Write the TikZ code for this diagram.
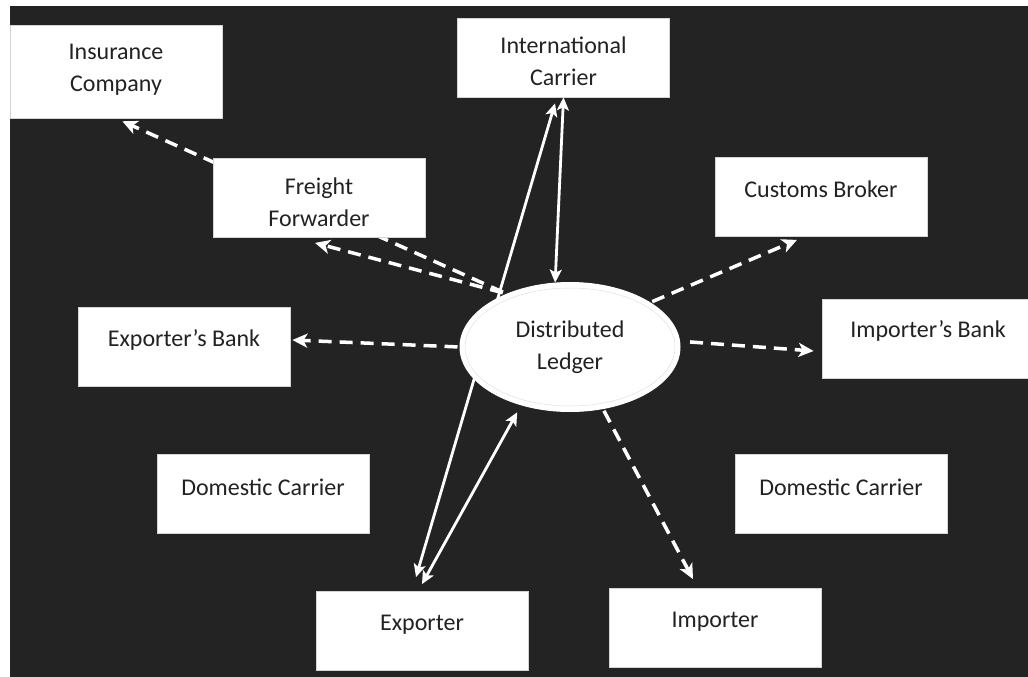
\documentclass[tikz,border=0pt]{standalone}
\usepackage{fontspec}
\setmainfont{Carlito}
\usetikzlibrary{shapes.geometric,arrows.meta}
\pgfdeclarelayer{back}
\pgfdeclarelayer{links}
\pgfsetlayers{back,links,main}
\definecolor{board}{HTML}{232323}
\definecolor{ink}{HTML}{222222}
\definecolor{rim}{HTML}{D4D4D4}

\begin{document}
\begin{tikzpicture}[x=1pt,y=-1pt,
  party/.style={draw=rim,line width=0.8pt,fill=white,minimum width=212pt,minimum height=79pt,inner sep=0pt},
  tag/.style={text=ink,align=center,font=\fontsize{24}{32}\selectfont},
  flow/.style={white,line width=3.5pt,dash pattern=on 13pt off 8pt,-{Stealth[length=15pt,width=14pt,inset=4pt]}},
  link/.style={white,line width=2.8pt,{Stealth[length=13pt,width=12pt,inset=3pt]}-{Stealth[length=13pt,width=12pt,inset=3pt]}}]

\useasboundingbox (0,0) rectangle (1028,677) ;

\node[party,minimum height=93pt] (ins) at (116,71.5) {} ;
\node[tag] (ins-t) at (116,70) {Insurance\\Company} ;
\node[party] (intc) at (563.5,57.5) {} ;
\node[tag] (intc-t) at (563.5,61) {International\\Carrier} ;
\node[party] (fwd) at (319,198) {} ;
\node[tag] (fwd-t) at (319,202) {Freight\\Forwarder} ;
\node[party] (cust) at (821,197) {} ;
\node[tag] (cust-t) at (821,189) {Customs Broker} ;

\node[party] (xbank) at (184,347) {} ;
\node[tag] (xbank-t) at (184,340) {Exporter’s Bank} ;
\node[party] (ibank) at (928,339) {} ;
\node[tag] (ibank-t) at (928,331) {Importer’s Bank} ;

\node[party] (dcl) at (263,494) {} ;
\node[tag] (dcl-t) at (263,487) {Domestic Carrier} ;
\node[party] (dcr) at (841,494) {} ;
\node[tag] (dcr-t) at (841,487) {Domestic Carrier} ;
\node[party] (exp) at (422,631) {} ;
\node[tag] (exp-t) at (422,625) {Exporter} ;
\node[party] (imp) at (715,628) {} ;
\node[tag] (imp-t) at (715,622) {Importer} ;

\node[ellipse,fill=white,draw=white,line width=1pt,minimum width=220pt,minimum height=129pt,inner sep=0pt,tag] (ledger) at (570,347) {Distributed\\Ledger} ;
\draw[rim!70,line width=0.5pt] (ledger.center) ellipse [x radius=105pt,y radius=59pt] ;

\begin{pgfonlayer}{back}
\fill[white] (0,0) rectangle (1028,677) ;
\fill[board] (10,6) rectangle (1028,677) ;
\end{pgfonlayer}

\begin{pgfonlayer}{links}
\draw[flow,shorten <=4pt,shorten >=7pt] (ledger.140) -- (ins.south) ;
\draw[flow,shorten <=4pt] (ledger.140) -- ([xshift=-4pt,yshift=-5pt]fwd.south) ;
\draw[flow,shorten <=2pt] (ledger.west) -- ([xshift=2pt,yshift=7pt]xbank.east) ;
\draw[flow,shorten <=2pt] (ledger.29) -- ([xshift=-24pt,yshift=-3pt]cust.south) ;
\draw[flow,shorten <=10pt] (ledger.3) -- ([xshift=-8pt,yshift=-12pt]ibank.west) ;
\draw[flow,shorten <=2pt] (ledger.-62) -- ([xshift=-22pt,yshift=9pt]imp.north) ;

\draw[link] ([xshift=-6pt,yshift=14pt]exp.north) -- ([xshift=-8.5pt,yshift=-6pt]intc.south) ;
\draw[link] (ledger.103) -- (intc.south) ;
\draw[link,shorten >=8pt] ([yshift=7pt]exp.north) -- (ledger.230) ;
\end{pgfonlayer}

\end{tikzpicture}
\end{document}
